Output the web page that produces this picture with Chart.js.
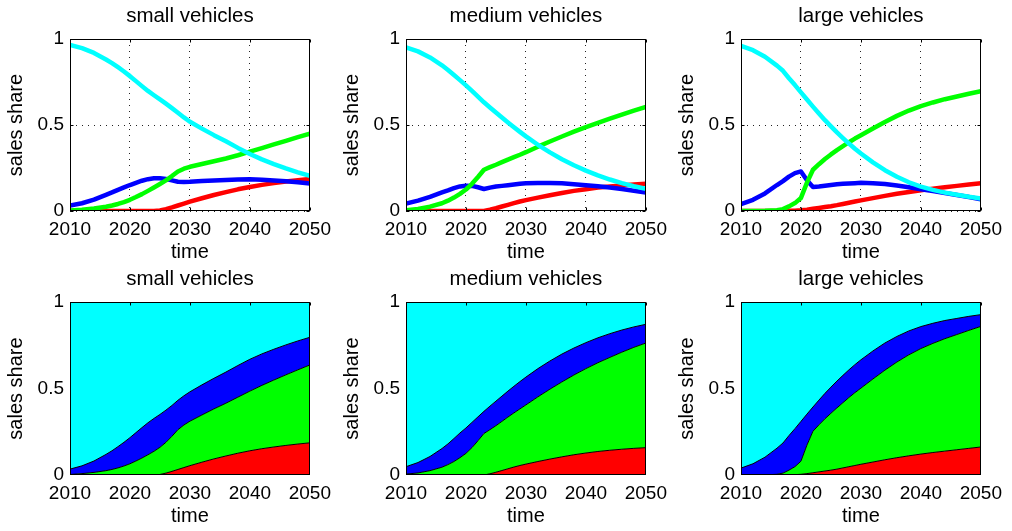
<!DOCTYPE html>
<html>
<head>
<meta charset="utf-8">
<script src="https://cdn.jsdelivr.net/npm/chart.js@4.4.1/dist/chart.umd.min.js"></script>
<style>
  html, body { margin: 0; padding: 0; background: #fff; }
  #wrap { position: relative; width: 1012px; height: 531px; overflow: hidden; background: #fff; }
  #wrap canvas { position: absolute; }
</style>
</head>
<body>
<div id="wrap"></div>
<script>
// Sales share by drive type, 2010-2050, per vehicle size class.
const years = [2010, 2012, 2014, 2016, 2017, 2018, 2019, 2020, 2021, 2022, 2023, 2024, 2025, 2026,
               2027, 2028, 2029, 2030, 2032, 2034, 2036, 2038, 2040, 2042, 2044, 2046, 2048, 2050];
const xTicks = [2010, 2020, 2030, 2040, 2050];
const yTicks = [0, 0.5, 1];
const panelTitles = ['small vehicles', 'medium vehicles', 'large vehicles'];
const xTitle = 'time';
const yTitle = 'sales share';

// small vehicles
const smallRed   = [0, 0, 0, 0, 0, 0, 0, 0, 0, 0, 0, 0, 0.003, 0.011, 0.021, 0.032, 0.043, 0.054, 0.074, 0.093, 0.11, 0.126, 0.14, 0.152, 0.162, 0.171, 0.179, 0.186];
const smallGreen = [0.003, 0.008, 0.015, 0.025, 0.032, 0.041, 0.052, 0.065, 0.081, 0.098, 0.117, 0.137, 0.157, 0.178, 0.203, 0.23, 0.246, 0.257, 0.273, 0.289, 0.305, 0.324, 0.345, 0.366, 0.387, 0.408, 0.429, 0.45];
const smallBlue  = [0.031, 0.045, 0.066, 0.094, 0.108, 0.123, 0.137, 0.151, 0.164, 0.176, 0.185, 0.19, 0.19, 0.186, 0.178, 0.17, 0.169, 0.17, 0.174, 0.177, 0.18, 0.183, 0.184, 0.182, 0.178, 0.173, 0.167, 0.16];
const smallCyan  = [0.966, 0.947, 0.919, 0.881, 0.86, 0.836, 0.811, 0.784, 0.755, 0.726, 0.698, 0.673, 0.649, 0.624, 0.598, 0.571, 0.544, 0.519, 0.479, 0.441, 0.405, 0.367, 0.331, 0.30, 0.273, 0.248, 0.225, 0.204];

// medium vehicles
const mediumRed   = [0, 0, 0, 0, 0, 0, 0, 0, 0, 0, 0, 0.007, 0.016, 0.026, 0.036, 0.046, 0.055, 0.063, 0.078, 0.092, 0.105, 0.117, 0.127, 0.136, 0.143, 0.149, 0.154, 0.158];
const mediumGreen = [0.005, 0.012, 0.025, 0.045, 0.06, 0.078, 0.1, 0.125, 0.158, 0.198, 0.24, 0.255, 0.269, 0.284, 0.299, 0.313, 0.327, 0.342, 0.374, 0.404, 0.433, 0.461, 0.488, 0.513, 0.537, 0.561, 0.584, 0.605];
const mediumBlue  = [0.043, 0.06, 0.082, 0.108, 0.12, 0.133, 0.143, 0.147, 0.146, 0.138, 0.128, 0.136, 0.142, 0.146, 0.15, 0.154, 0.158, 0.161, 0.163, 0.163, 0.161, 0.156, 0.15, 0.144, 0.137, 0.128, 0.118, 0.108];
const mediumCyan  = [0.952, 0.928, 0.893, 0.847, 0.82, 0.791, 0.761, 0.73, 0.698, 0.665, 0.632, 0.602, 0.573, 0.544, 0.515, 0.487, 0.46, 0.434, 0.385, 0.341, 0.301, 0.266, 0.235, 0.207, 0.183, 0.162, 0.144, 0.129];

// large vehicles
const largeRed   = [0, 0, 0, 0, 0, 0.001, 0.002, 0.004, 0.008, 0.013, 0.018, 0.023, 0.028, 0.034, 0.041, 0.048, 0.055, 0.062, 0.075, 0.088, 0.1, 0.111, 0.121, 0.13, 0.138, 0.146, 0.154, 0.162];
const largeGreen = [0, 0, 0.001, 0.004, 0.011, 0.027, 0.046, 0.076, 0.165, 0.24, 0.272, 0.302, 0.329, 0.354, 0.377, 0.4, 0.421, 0.44, 0.48, 0.518, 0.553, 0.584, 0.61, 0.631, 0.65, 0.666, 0.682, 0.697];
const largeBlue  = [0.04, 0.065, 0.102, 0.151, 0.174, 0.2, 0.22, 0.23, 0.179, 0.14, 0.143, 0.147, 0.151, 0.155, 0.158, 0.16, 0.162, 0.164, 0.162, 0.157, 0.148, 0.138, 0.127, 0.116, 0.105, 0.093, 0.081, 0.068];
const largeCyan  = [0.96, 0.935, 0.897, 0.845, 0.815, 0.772, 0.732, 0.69, 0.648, 0.607, 0.567, 0.528, 0.492, 0.457, 0.424, 0.392, 0.362, 0.334, 0.283, 0.237, 0.199, 0.167, 0.142, 0.123, 0.107, 0.095, 0.083, 0.073];

const panelSeries = [
  [smallRed, smallGreen, smallBlue, smallCyan],
  [mediumRed, mediumGreen, mediumBlue, mediumCyan],
  [largeRed, largeGreen, largeBlue, largeCyan]
];

// drawing styles
const seriesColors = ['#ff0000', '#00ff00', '#0000ff', '#00ffff'];
const lineOrder = [3, 1, 2, 0];           // cyan drawn on top, red underneath
const FONT = '"Liberation Sans", Arial, Helvetica, sans-serif';
const colLeft = [0, 336, 671];            // canvas x for each column
const rowTop = [0, 263];                  // canvas y for each row
const rowHeight = [266, 267];
const CANVAS_W = 338;
const TOP_SPACE = 39;                     // room above the plot box for the panel title

Chart.defaults.font.family = FONT;
Chart.defaults.color = '#000';

// MATLAB-style axes box with inward tick marks, plus the panel title centred on the box
const boxPlugin = {
  id: 'axesBox',
  afterDraw(chart, args, opts) {
    const { ctx, chartArea: a, scales } = chart;
    const L = Math.round(a.left) + 0.5, R = Math.round(a.right) - 0.5;
    const T = Math.round(a.top) + 0.5, B = Math.round(a.bottom) - 0.5;
    const len = 3;
    ctx.save();
    ctx.strokeStyle = '#000';
    ctx.lineWidth = 1;
    ctx.setLineDash([]);
    ctx.beginPath();
    const sides = opts.sides || [];
    xTicks.forEach(v => {
      const px = Math.round(scales.x.getPixelForValue(v)) + 0.5;
      if (sides.includes('bottom')) { ctx.moveTo(px, B); ctx.lineTo(px, B - len); }
      if (sides.includes('top')) { ctx.moveTo(px, T); ctx.lineTo(px, T + len); }
    });
    yTicks.forEach(v => {
      const py = Math.round(scales.y.getPixelForValue(v)) + 0.5;
      if (sides.includes('left')) { ctx.moveTo(L, py); ctx.lineTo(L + len, py); }
      if (sides.includes('right')) { ctx.moveTo(R, py); ctx.lineTo(R - len, py); }
    });
    ctx.stroke();
    ctx.strokeRect(L, T, R - L, B - T);

    ctx.fillStyle = '#000';
    ctx.font = '20.5px ' + FONT;
    ctx.textAlign = 'center';
    ctx.textBaseline = 'alphabetic';
    ctx.fillText(opts.title, (a.left + a.right) / 2, a.top - 17);
    ctx.restore();
  }
};

function makeScales(showGrid, stacked) {
  return {
    x: {
      type: 'linear', min: 2010, max: 2050,
      afterBuildTicks: s => { s.ticks = xTicks.map(v => ({ value: v })); },
      afterFit: s => { s.height = 55; },
      ticks: { callback: v => String(v), padding: 7, font: { size: 19 }, color: '#000', maxRotation: 0, autoSkip: false },
      grid: { display: showGrid, color: '#222', lineWidth: 1, drawTicks: false },
      border: { display: false, dash: [1, 5] },
      title: { display: true, text: xTitle, font: { size: 20 }, color: '#000', padding: { top: 0, bottom: 2 } }
    },
    y: {
      type: 'linear', min: 0, max: 1, stacked: stacked,
      afterBuildTicks: s => { s.ticks = yTicks.map(v => ({ value: v })); },
      afterFit: s => { s.width = 70; },
      ticks: { callback: v => String(v), padding: 6, font: { size: 19 }, color: '#000' },
      grid: { display: showGrid, color: '#222', lineWidth: 1, drawTicks: false },
      border: { display: false, dash: [1, 5] },
      title: { display: true, text: yTitle, font: { size: 20 }, color: '#000', padding: { top: 4, bottom: 0 } }
    }
  };
}

function makeCanvas(col, row) {
  const c = document.createElement('canvas');
  c.width = CANVAS_W;
  c.height = rowHeight[row];
  c.style.left = colLeft[col] + 'px';
  c.style.top = rowTop[row] + 'px';
  c.style.width = CANVAS_W + 'px';
  c.style.height = rowHeight[row] + 'px';
  document.getElementById('wrap').appendChild(c);
  return c;
}

function toPoints(values) {
  return years.map((x, i) => ({ x: x, y: values[i] }));
}

function commonOptions(title, stacked, sides) {
  return {
    responsive: false,
    animation: false,
    devicePixelRatio: 1,
    layout: { padding: { left: 0, right: 25, top: TOP_SPACE, bottom: 0 } },
    plugins: {
      legend: { display: false },
      tooltip: { enabled: false },
      title: { display: false },
      axesBox: { sides: sides, title: title }
    },
    scales: makeScales(!stacked, stacked)
  };
}

// top row: share per drive type as lines
panelSeries.forEach((series, col) => {
  new Chart(makeCanvas(col, 0), {
    type: 'line',
    data: {
      datasets: series.map((vals, k) => ({
        data: toPoints(vals),
        borderColor: seriesColors[k],
        borderWidth: 4.5,
        pointRadius: 0,
        fill: false,
        tension: 0,
        borderJoinStyle: 'round',
        order: lineOrder[k]
      }))
    },
    options: commonOptions(panelTitles[col], false, ['bottom', 'top', 'left', 'right']),
    plugins: [boxPlugin]
  });
});

// bottom row: the same shares stacked as areas
panelSeries.forEach((series, col) => {
  new Chart(makeCanvas(col, 1), {
    type: 'line',
    data: {
      datasets: series.map((vals, k) => ({
        data: toPoints(vals),
        borderColor: '#000',
        borderWidth: 1,
        backgroundColor: seriesColors[k],
        pointRadius: 0,
        tension: 0,
        fill: k === 0 ? 'origin' : '-1'
      }))
    },
    options: commonOptions(panelTitles[col], true, ['top']),
    plugins: [boxPlugin]
  });
});
</script>
</body>
</html>
